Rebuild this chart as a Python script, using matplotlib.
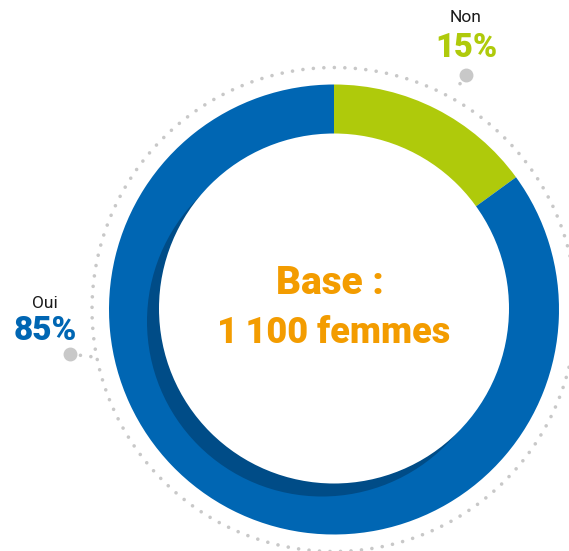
import numpy as np
import matplotlib.pyplot as plt
from matplotlib.patches import Circle

labels = ["Non", "Oui"]
values = [15, 85]
colors = ["#AFCA0B", "#0066B3"]
center_text = ["Base :", "1\u2009100 femmes"]

W, H = 569, 551
fig = plt.figure(figsize=(W / 100, H / 100), dpi=100)
ax = fig.add_axes([0, 0, 1, 1])

cx, cy = 334, H - 309.5
R = 225

ax.pie(values, colors=colors, startangle=90, counterclock=False,
       radius=R, center=(cx, cy), wedgeprops=dict(linewidth=0))

# shadow + white hole
ax.add_patch(Circle((cx - 12, cy - 12), 175, color="#004C87", lw=0, zorder=3))
ax.add_patch(Circle((cx, cy + 1), 175, color="white", lw=0, zorder=4))

# dotted outer ring
t = np.linspace(0, 2 * np.pi, 600)
ax.plot(cx + 242 * np.cos(t), cy + 242 * np.sin(t), color="#C8C8C8", lw=2.6,
        linestyle=(0, (0.01, 2.9)), dash_capstyle="round", zorder=1)

# leader dots
for (x0, y0), (x1, y1) in [((70, 354), (94, 357)), ((466, 75), (455, 91))]:
    ax.plot([x0, x1], [H - y0, H - y1], color="#C8C8C8", lw=2.6,
            linestyle=(0, (0.01, 2.9)), dash_capstyle="round", zorder=1)
    ax.plot(x0, H - y0, "o", color="#C8C8C8", ms=9, zorder=2)

ax.text(45, H - 303, labels[1], ha="center", va="center", fontsize=12.5,
        family="Roboto", fontweight="normal", color="#1A1A1A")
ax.text(45, H - 331, f"{values[1]}%", ha="center", va="center", fontsize=24,
        family="Roboto", fontweight="black", color=colors[1])
ax.text(466, H - 17, labels[0], ha="center", va="center", fontsize=12.5,
        family="Roboto", fontweight="normal", color="#1A1A1A")
ax.text(466, H - 48, f"{values[0]}%", ha="center", va="center", fontsize=23.5,
        family="Roboto", fontweight="black", color=colors[0])

ax.text(330, H - 283, center_text[0], ha="center", va="center", fontsize=28,
        family=["Roboto", "DejaVu Sans"], fontweight="black", color="#F39C00", zorder=5)
ax.text(334, H - 333, center_text[1], ha="center", va="center", fontsize=26,
        family=["Roboto", "DejaVu Sans"], fontweight="black", color="#F39C00", zorder=5)

ax.set_xlim(0, W)
ax.set_ylim(0, H)
ax.set_aspect("auto")
ax.axis("off")
fig.savefig("out.png", dpi=100)
